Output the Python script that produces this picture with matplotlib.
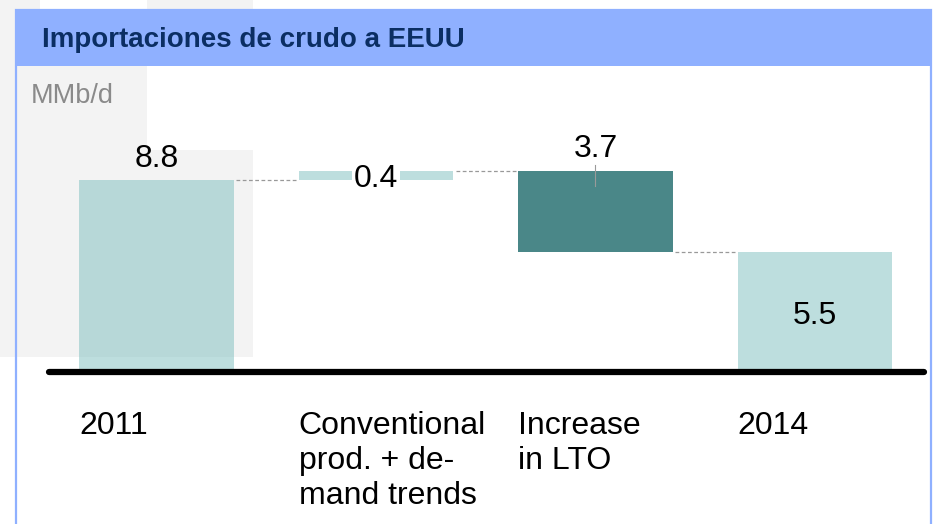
import matplotlib
matplotlib.use("Agg")
import matplotlib.pyplot as plt
from matplotlib.patches import Rectangle

plt.rcParams['font.family'] = ['Liberation Sans', 'DejaVu Sans']

# datos
categories = ["2011", "Conventional\nprod. + de-\nmand trends", "Increase\nin LTO", "2014"]
changes = [8.8, 0.4, -3.7, 5.5]
is_total = [True, False, False, True]
value_labels = ["8.8", "0.4", "3.7", "5.5"]
title = "Importaciones de crudo a EEUU"
unit = "MMb/d"

W, H = 933, 524
S = 21.8          # px por unidad
BASE = 372        # linea base en px (desde arriba)

fig = plt.figure(figsize=(W / 100, H / 100), dpi=100)


def fig_rect(x, y, w, h, **kw):
    # rectangulo en pixeles, origen arriba a la izquierda
    return Rectangle((x / W, 1 - (y + h) / H), w / W, h / H,
                     transform=fig.transFigure, **kw)


gray = '#f3f3f3'
for r in [(0, 0, 40, 10), (147, 0, 106, 10), (0, 0, 16, 357),
          (16, 66, 131, 291), (147, 150, 106, 207)]:
    fig.add_artist(fig_rect(*r, facecolor=gray, edgecolor='none', zorder=-3))

# marco azul y banda del titulo
fig.add_artist(fig_rect(15, 9, 917, 57, facecolor='#8fb0ff', edgecolor='none', zorder=-2))
fig.add_artist(fig_rect(16, 10, 915, 530, facecolor='none', edgecolor='#8fb0ff',
                        linewidth=1.6, zorder=-1))

fig.text(42 / W, 1 - 47 / H, title, fontsize=20, fontweight='bold',
         color='#0b2e63', va='baseline', ha='left')
fig.text(31 / W, 1 - 103 / H, unit, fontsize=19.5, color='#8a8a8a',
         va='baseline', ha='left')

# ejes en coordenadas de datos
step = 219.5
x_first = 156.5
x0 = (45 - x_first) / step
x1 = (928 - x_first) / step
ax = fig.add_axes([45 / W, 0, 883 / W, 1])
ax.set_zorder(2)
ax.set_xlim(x0, x1)
ax.set_ylim(-(H - BASE) / S, BASE / S)
ax.axis('off')

bottoms, heights = [], []
running = 0
for c, tot in zip(changes, is_total):
    if tot:
        bottoms.append(0)
        heights.append(c)
        running = c
    else:
        new = running + c
        bottoms.append(min(running, new))
        heights.append(abs(c))
        running = new
tops = [b + h for b, h in zip(bottoms, heights)]
levels = [8.8, 9.2, 5.5]

light = (135 / 255, 195 / 255, 195 / 255, 0.55)
dark = '#4a8788'
colors = [light, light, dark, light]
width = 0.706
xs = list(range(len(categories)))

ax.bar(xs, heights, bottom=bottoms, width=width, color=colors, zorder=2,
       linewidth=0)

# conectores
for i, lv in enumerate(levels):
    ax.plot([xs[i] + width / 2 + 0.01, xs[i + 1] - width / 2 - 0.01], [lv, lv],
            color='#999999', lw=0.9, ls=(0, (3, 2)), zorder=1)

# linea base
ax.plot([x0 + 0.02, x1 - 0.02], [0, 0], color='black', lw=4.5,
        solid_capstyle='round', zorder=4)

# etiquetas de valor
off = 11.5 / S
ax.text(xs[0], tops[0] + 0.6, value_labels[0], ha='center', va='baseline', fontsize=23, zorder=5)
mid = bottoms[1] + heights[1] / 2
ax.text(xs[1], mid - off, value_labels[1], ha='center', va='baseline', fontsize=23, zorder=5,
        bbox=dict(facecolor='white', edgecolor='none', pad=1.5))
ax.plot([xs[2], xs[2]], [tops[2] + 0.3, tops[2] - 0.65], color='#9a9a9a', lw=0.8, zorder=3)
ax.text(xs[2], tops[2] + 0.66, value_labels[2], ha='center', va='baseline', fontsize=23, zorder=5)
ax.text(xs[3], heights[3] / 2 - off, value_labels[3], ha='center', va='baseline', fontsize=23, zorder=5)

# etiquetas de categoria
for x, lab in zip(xs, categories):
    ax.text(x - width / 2, -(411 - BASE) / S, lab, ha='left', va='top',
            fontsize=23, linespacing=1.22, zorder=5)

fig.savefig("out.png", dpi=100)
